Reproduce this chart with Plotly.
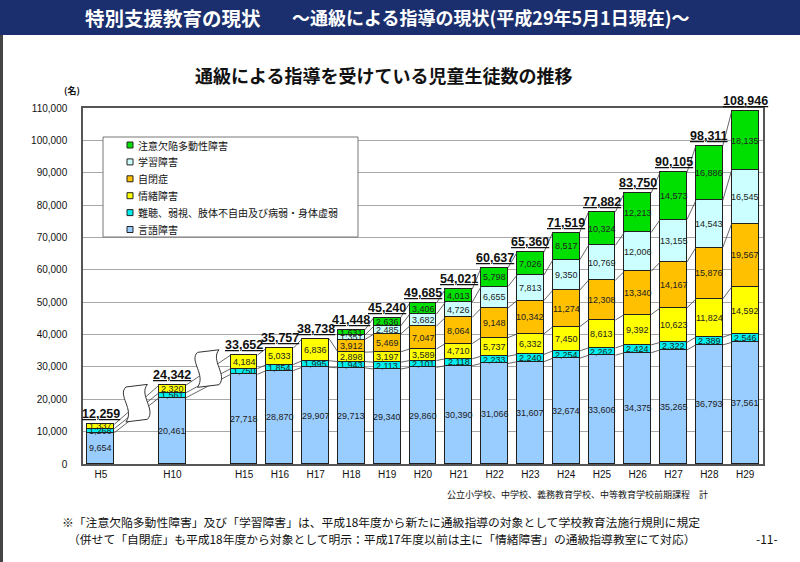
import plotly.graph_objects as go

# ---------------- data ----------------
years = ["H5", "H10", "H15", "H16", "H17", "H18", "H19", "H20", "H21", "H22",
         "H23", "H24", "H25", "H26", "H27", "H28", "H29"]
# axis order with blank slots for the gaps (H5 .. H10 .. H15)
axis_order = ["H5", "", "H10", " ", "H15", "H16", "H17", "H18", "H19", "H20",
              "H21", "H22", "H23", "H24", "H25", "H26", "H27", "H28", "H29"]

gengo   = [9654, 20461, 27718, 28870, 29907, 29713, 29340, 29860, 30390, 31066,
           31607, 32674, 33606, 34375, 35265, 36793, 37561]
nancho  = [1268, 1561, 1750, 1854, 1995, 1943, 2113, 2101, 2118, 2233,
           2240, 2254, 2262, 2424, 2322, 2389, 2546]
jocho   = [1337, 2320, 4184, 5033, 6836, 2898, 3197, 3589, 4710, 5737,
           6332, 7450, 8613, 9392, 10623, 11824, 14592]
jihei   = [None, None, None, None, None, 3912, 5469, 7047, 8064, 9148,
           10342, 11274, 12308, 13340, 14167, 15876, 19567]
gakushu = [None, None, None, None, None, 1351, 2485, 3682, 4726, 6655,
           7813, 9350, 10769, 12006, 13155, 14543, 16545]
adhd    = [None, None, None, None, None, 1631, 2636, 3406, 4013, 5798,
           7026, 8517, 10324, 12213, 14573, 16886, 18135]

series_names = ["言語障害", "難聴、弱視、肢体不自由及び病弱・身体虚弱", "情緒障害",
                "自閉症", "学習障害", "注意欠陥多動性障害"]
series_vals = [gengo, nancho, jocho, jihei, gakushu, adhd]
series_colors = ["#99CCFF", "#00EEEE", "#FFFF00", "#FFC000", "#CCFFFF", "#00E000"]

y_ticks = [0, 10000, 20000, 30000, 40000, 50000, 60000, 70000, 80000, 90000, 100000, 110000]

# ---------------- layout geometry helpers ----------------
W, H = 800, 562
L, R, T, B = 83, 37, 108, 98
PW, PH = W - L - R, H - T - B
def px(x):  # pixel x -> paper
    return (x - L) / PW
def py(y):  # pixel y -> paper
    return (H - B - y) / PH

slots = [axis_order.index(y) for y in years]
BW = 0.75
FONT = "Noto Sans CJK JP, Noto Sans, sans-serif"
NUMFONT = "Liberation Sans, Arial, sans-serif"

fig = go.Figure()

# cumulative tops
cums = []
run = [0] * len(years)
for vals in series_vals:
    base = list(run)
    top = [run[i] + (vals[i] or 0) for i in range(len(years))]
    cums.append((base, top))
    run = top
totals = run

# connector lines (series top to next bar's same series top)
cx, cy = [], []
for s, vals in enumerate(series_vals):
    for i in range(len(years) - 1):
        if vals[i] is None or vals[i + 1] is None:
            continue
        cx += [slots[i] + BW / 2, slots[i + 1] - BW / 2, None]
        cy += [cums[s][1][i], cums[s][1][i + 1], None]
fig.add_trace(go.Scatter(x=cx, y=cy, mode="lines", line=dict(color="#404040", width=0.8),
                         showlegend=False, hoverinfo="skip"))

for name, vals, col in zip(series_names, series_vals, series_colors):
    fig.add_trace(go.Bar(x=slots, y=vals, name=name, width=BW, showlegend=False,
                         marker=dict(color=col, line=dict(color="#202020", width=1))))

annotations = []
# totals
for i, t in enumerate(totals):
    annotations.append(dict(x=slots[i], y=t, xref="x", yref="y", yanchor="bottom",
                            yshift=1, showarrow=False,
                            text=f"<b><u>{t:,}</u></b>",
                            font=dict(size=12.5, color="#111", family=NUMFONT)))
# segment labels
for s, vals in enumerate(series_vals):
    for i, v in enumerate(vals):
        if v is None:
            continue
        mid = (cums[s][0][i] + cums[s][1][i]) / 2
        annotations.append(dict(x=slots[i], y=mid, xref="x", yref="y", showarrow=False,
                                text=f"{v:,}",
                                font=dict(size=9, color="#222", family=NUMFONT)))

shapes = [
    # header banner
    dict(type="rect", xref="paper", yref="paper", x0=px(0), x1=px(800), y0=py(35), y1=py(0),
         fillcolor="#1B2F6E", line=dict(width=0), layer="above"),
    # left edge stripe
    dict(type="rect", xref="paper", yref="paper", x0=px(0), x1=px(3), y0=py(562), y1=py(35),
         fillcolor="#444", line=dict(width=0), layer="above"),
]

# custom legend (box, swatches, labels) - top item is the last series
LEG_X0, LEG_X1, LEG_Y0, LEG_Y1 = 103, 358, 137, 237
shapes.append(dict(type="rect", xref="paper", yref="paper", x0=px(LEG_X0), x1=px(LEG_X1),
                   y0=py(LEG_Y1), y1=py(LEG_Y0), fillcolor="white",
                   line=dict(color="#777", width=1), layer="above"))
n = len(series_names)
for k, (name, col) in enumerate(reversed(list(zip(series_names, series_colors)))):
    yc = 145 + k * 16.9
    shapes.append(dict(type="rect", xref="paper", yref="paper", x0=px(127), x1=px(133),
                       y0=py(yc + 3), y1=py(yc - 3), fillcolor=col,
                       line=dict(color="#222", width=1), layer="above"))
    annotations.append(dict(x=px(136), y=py(yc), xref="paper", yref="paper", xanchor="left",
                            yanchor="middle", showarrow=False, text=name,
                            font=dict(size=10, color="#111", family=FONT)))

annotations.append(dict(x=px(83), y=py(17), xref="paper", yref="paper", xanchor="left",
                        yanchor="middle", showarrow=False,
                        text="<b>特別支援教育の現状</b>",
                        font=dict(size=19.5, color="white", family=FONT)))
annotations.append(dict(x=px(290), y=py(17), xref="paper", yref="paper", xanchor="left",
                        yanchor="middle", showarrow=False,
                        text="<b>～通級による指導の現状(平成29年5月1日現在)～</b>",
                        font=dict(size=18, color="white", family=FONT)))
# chart title
annotations.append(dict(x=px(383), y=py(75), xref="paper", yref="paper", xanchor="center",
                        yanchor="middle", showarrow=False,
                        text="<b>通級による指導を受けている児童生徒数の推移</b>",
                        font=dict(size=18, color="#111", family=FONT)))
annotations.append(dict(x=px(72), y=py(90), xref="paper", yref="paper", xanchor="center",
                        yanchor="middle", showarrow=False, text="<b>(名)</b>",
                        font=dict(size=9, color="#111", family=FONT)))
annotations.append(dict(x=px(710), y=py(494), xref="paper", yref="paper", xanchor="right",
                        yanchor="middle", showarrow=False,
                        text="公立小学校、中学校、義務教育学校、中等教育学校前期課程　計",
                        font=dict(size=9, color="#111", family=FONT)))
annotations.append(dict(x=px(60), y=py(521), xref="paper", yref="paper", xanchor="left",
                        yanchor="middle", showarrow=False,
                        text="※「注意欠陥多動性障害」及び「学習障害」は、平成18年度から新たに通級指導の対象として学校教育法施行規則に規定",
                        font=dict(size=11.8, color="#111", family=FONT)))
annotations.append(dict(x=px(66), y=py(538), xref="paper", yref="paper", xanchor="left",
                        yanchor="middle", showarrow=False,
                        text="（併せて「自閉症」も平成18年度から対象として明示：平成17年度以前は主に「情緒障害」の通級指導教室にて対応）",
                        font=dict(size=11.8, color="#111", family=FONT)))
annotations.append(dict(x=px(780), y=py(538), xref="paper", yref="paper", xanchor="right",
                        yanchor="middle", showarrow=False, text="-11-",
                        font=dict(size=12, color="#111", family=FONT)))

# break (squiggle) marks in the gap slots
for i in range(len(years) - 1):
    if slots[i + 1] - slots[i] == 2:
        xc = (slots[i] + slots[i + 1]) / 2
        yc = (totals[i] + totals[i + 1]) / 2 + 500
        hh = 5000
        hw = 0.3
        yt, yb = yc + hh, yc - hh
        d = (f"M {xc-hw},{yt} L {xc+hw},{yt+800} "
             f"C {xc+hw-0.25},{yt-2500} {xc+hw+0.25},{yb+3000} {xc+hw},{yb} "
             f"L {xc-hw},{yb-800} "
             f"C {xc-hw+0.25},{yb+3000} {xc-hw-0.25},{yt-2500} {xc-hw},{yt} Z")
        shapes.append(dict(type="path", path=d, xref="x", yref="y",
                           fillcolor="white", line=dict(color="#333", width=1), layer="above"))

fig.update_layout(
    width=W, height=H,
    margin=dict(l=L, r=R, t=T, b=B),
    paper_bgcolor="white", plot_bgcolor="white",
    barmode="stack", bargap=0,
    font=dict(family=FONT, color="#111"),
    showlegend=False,
    annotations=annotations,
    shapes=shapes,
)
fig.update_xaxes(range=[-0.5, len(axis_order) - 0.5], tickmode="array",
                 tickvals=list(range(len(axis_order))), ticktext=axis_order,
                 showgrid=False, showline=True, linecolor="#555", linewidth=1.5, mirror=True,
                 ticks="", tickfont=dict(size=10, family="Liberation Sans Narrow, Liberation Sans, Arial", color="#111"),
                 zeroline=False)
fig.update_yaxes(range=[0, 110000], tickvals=y_ticks, tickformat=",d",
                 showgrid=True, gridcolor="#A8A8A8", gridwidth=1,
                 showline=True, linecolor="#555", linewidth=1.5, mirror=True,
                 ticks="", ticklabelstandoff=12,
                 tickfont=dict(size=10, family=NUMFONT, color="#111"),
                 zeroline=False)

fig.write_html("out.html")
